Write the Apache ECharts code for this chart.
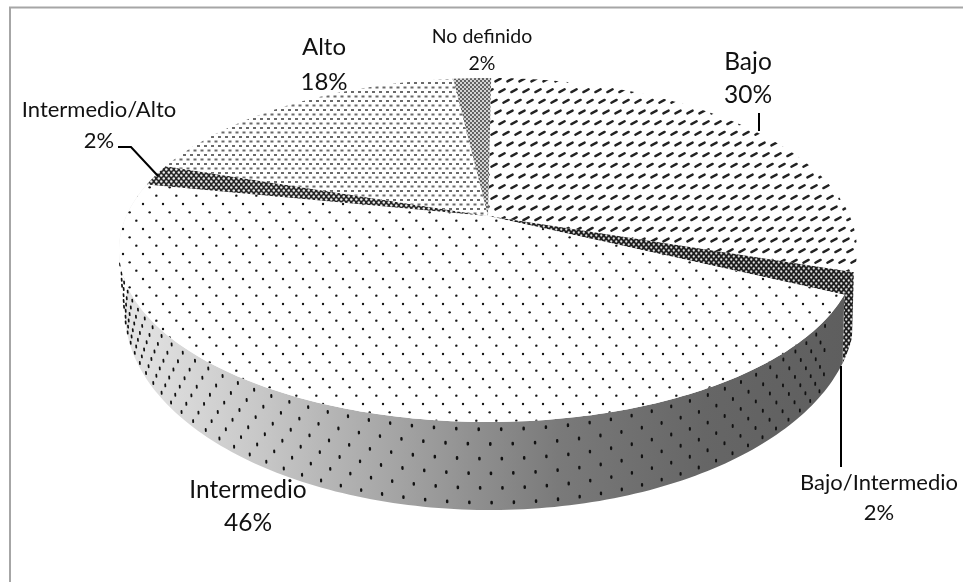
<!DOCTYPE html>
<html>
<head>
<meta charset="utf-8">
<style>html,body{margin:0;padding:0;background:#fff}#c{width:963px;height:582px}</style>
<script src="https://cdn.jsdelivr.net/npm/echarts@6/dist/echarts.min.js"></script>
</head>
<body>
<div id="c"></div>
<script>
// Reparto de casos por nivel de riesgo
const categories = ['Bajo', 'Bajo/Intermedio', 'Intermedio', 'Intermedio/Alto', 'Alto', 'No definido'];
const shares = [30, 2, 46, 2, 18, 2];

const START_DEG = 0.6;
const TOP = { cx: 488, cy: 250, rx: 369, ry: 172 };
const BASE = { cx: 490, cy: 312, rx: 365, ry: 198 };
const TILT = -0.198;                 // desplazamiento del vértice respecto al centro de la elipse
const CH = 1 / Math.sqrt(1 - TILT * TILT), SH = TILT * CH;

// Ángulo de círculo (horario desde arriba) a coordenadas normalizadas en perspectiva
function project(deg) {
  const a = deg * Math.PI / 180, u = Math.sin(a), v = -Math.cos(a);
  const w = SH * v + CH;
  return [u / w, (CH * v + SH) / w];
}
function onEllipse(e, deg) {
  const p = project(deg);
  return [e.cx + e.rx * p[0], e.cy + e.ry * p[1]];
}
function arc(e, from, to) {
  const pts = [], n = Math.max(4, Math.ceil(Math.abs(to - from)));
  for (let i = 0; i <= n; i++) pts.push(onEllipse(e, from + (to - from) * i / n));
  return pts;
}

function tile(w, h, paint) {
  const c = document.createElement('canvas');
  c.width = w; c.height = h;
  paint(c.getContext('2d'));
  return { image: c, repeat: 'repeat' };
}
function dot(g, x, y, r, col) { g.fillStyle = col; g.beginPath(); g.arc(x, y, r, 0, 7); g.fill(); }

const patterns = [
  // Bajo: trazos diagonales cortos
  tile(12, 32, g => {
    g.fillStyle = '#fff'; g.fillRect(0, 0, 12, 32);
    g.strokeStyle = '#222'; g.lineWidth = 2.4; g.lineCap = 'round';
    [[2, 5.33], [6, 16], [10, 26.67]].forEach(([x, y]) => {
      for (const ox of [-12, 0, 12]) {
        g.beginPath(); g.moveTo(x + ox - 2.6, y + 1.4); g.lineTo(x + ox + 2.6, y - 1.4); g.stroke();
      }
    });
  }),
  // Bajo/Intermedio: trama cruzada oscura
  tile(5, 6, g => {
    g.fillStyle = '#1e1e1e'; g.fillRect(0, 0, 5, 6);
    [[1.25, 1.5], [3.75, 4.5]].forEach(([x, y]) => dot(g, x, y, 1.15, '#e2e2e2'));
  }),
  // Intermedio: puntos separados
  tile(20, 25, g => {
    g.fillStyle = '#fff'; g.fillRect(0, 0, 20, 25);
    [[3, 4], [9.67, 12.33], [16.33, 20.67]].forEach(([x, y]) => dot(g, x, y, 1.2, '#141414'));
  }),
  // Intermedio/Alto: trama cruzada
  tile(5, 6, g => {
    g.fillStyle = '#262626'; g.fillRect(0, 0, 5, 6);
    [[1.25, 1.5], [3.75, 4.5]].forEach(([x, y]) => dot(g, x, y, 1.25, '#f0f0f0'));
  }),
  // Alto: bloques finos al tresbolillo
  tile(7, 9, g => {
    g.fillStyle = '#fff'; g.fillRect(0, 0, 7, 9);
    g.fillStyle = '#6a6a6a';
    g.fillRect(1, 1, 3, 2);
    g.fillRect(4.5, 5.5, 3, 2);
    g.fillRect(-2.5, 5.5, 3, 2);
  }),
  // No definido: trama densa
  tile(4, 4, g => {
    g.fillStyle = '#d4d4d4'; g.fillRect(0, 0, 4, 4);
    [[1, 1], [3, 3]].forEach(([x, y]) => dot(g, x, y, 0.9, '#2e2e2e'));
  })
];

// Tramos angulares acumulados a partir de los porcentajes
const total = shares.reduce((s, v) => s + v, 0);
let cursor = START_DEG;
const spans = shares.map((v, i) => {
  const from = cursor; cursor += v / total * 360;
  return [from, cursor, i];
});

const sideFill = {
  type: 'linear', global: true, x: 120, y: 0, x2: 850, y2: 0,
  colorStops: [
    { offset: 0, color: '#e6e6e6' },
    { offset: 0.2, color: '#c6c6c6' },
    { offset: 0.4, color: '#a0a0a0' },
    { offset: 0.6, color: '#7a7a7a' },
    { offset: 0.8, color: '#666666' },
    { offset: 1, color: '#5e5e5e' }
  ]
};

function renderSide(params, api) {
  const from = api.value(0), to = api.value(1), i = api.value(2);
  const name = categories[i];
  if (name === 'Bajo' || name === 'Alto' || name === 'Intermedio/Alto' || name === 'No definido') {
    return { type: 'group', children: [] };
  }
  const poly = arc(TOP, from, to).concat(arc(BASE, from, to).reverse());
  const fill = name === 'Intermedio' ? sideFill : patterns[i];
  const children = [{ type: 'polygon', shape: { points: poly }, style: { fill: fill } }];
  if (name === 'Intermedio') {
    // Puntos de la trama sobre la pared curva: siguen la altura y el ángulo
    const rows = 6, stepDeg = 2.86;
    for (let r = 0; r < rows; r++) {
      const t = (r + 0.5) / rows;
      for (let d = 124 + (r % 2) * stepDeg / 2; d < 256; d += stepDeg) {
        const a = onEllipse(TOP, d), b = onEllipse(BASE, d);
        const x = a[0] + (b[0] - a[0]) * t, y = a[1] + (b[1] - a[1]) * t;
        const len = Math.hypot(b[0] - a[0], b[1] - a[1]) || 1;
        const side = Math.abs(x - TOP.cx) / TOP.rx;
        const k = 1.2 * (1 + 0.9 * side) / len;
        const dx = (b[0] - a[0]) * k, dy = (b[1] - a[1]) * k;
        children.push({
          type: 'line',
          shape: { x1: x - dx / 2, y1: y - dy / 2, x2: x + dx / 2, y2: y + dy / 2 },
          style: { stroke: '#111', lineWidth: 2.6 - 0.9 * side, lineCap: 'round' }
        });
      }
    }
  }
  return { type: 'group', children: children };
}

function renderTop(params, api) {
  const from = api.value(0), to = api.value(1), i = api.value(2);
  const apex = [TOP.cx, TOP.cy + TOP.ry * TILT];
  return {
    type: 'polygon',
    shape: { points: [apex].concat(arc(TOP, from, to)) },
    style: { fill: patterns[i] }
  };
}

// Colocación de rótulos y guías de cada categoría
const labelLayout = {
  'Bajo': { x: 748, y1: 62, y2: 95, size: 24.5, guide: [[759, 113], [759, 131]] },
  'Bajo/Intermedio': { x: 879, y1: 483, y2: 513, size: 22, guide: [[841, 366], [841, 467]] },
  'Intermedio': { x: 248, y1: 490, y2: 523, size: 24.5 },
  'Intermedio/Alto': { x: 99, y1: 110, y2: 141, size: 22, guide: [[118, 147], [131, 147], [158, 176]] },
  'Alto': { x: 324, y1: 47, y2: 82, size: 24 },
  'No definido': { x: 482, y1: 37, y2: 64, size: 19.5 }
};

function renderLabel(params, api) {
  const i = api.value(2), name = categories[i], L = labelLayout[name];
  const text = (s, y) => ({
    type: 'text',
    style: {
      text: s, x: L.x, y: y, align: 'center', verticalAlign: 'middle',
      fill: '#111', font: L.size + 'px Lato, "Open Sans", sans-serif'
    }
  });
  const children = [text(name, L.y1), text(shares[i] + '%', L.y2)];
  if (L.guide) {
    children.push({
      type: 'polyline', shape: { points: L.guide },
      style: { stroke: '#000', lineWidth: 2, fill: 'none' }
    });
  }
  return { type: 'group', children: children };
}

const custom = (renderItem, z) => ({
  type: 'custom', coordinateSystem: 'none', silent: true, z: z,
  data: spans, renderItem: renderItem, animation: false, clip: false
});

const chart = echarts.init(document.getElementById('c'), null, { renderer: 'canvas' });
chart.setOption({
  animation: false,
  backgroundColor: '#fff',
  graphic: [
    { type: 'polyline', silent: true, z: 0,
      shape: { points: [[10, 582], [10, 7.5], [963, 7.5]] },
      style: { stroke: '#a6a6a6', lineWidth: 2, fill: 'none' } }
  ],
  series: [custom(renderSide, 1), custom(renderTop, 2), custom(renderLabel, 3)]
});
</script>
</body>
</html>
